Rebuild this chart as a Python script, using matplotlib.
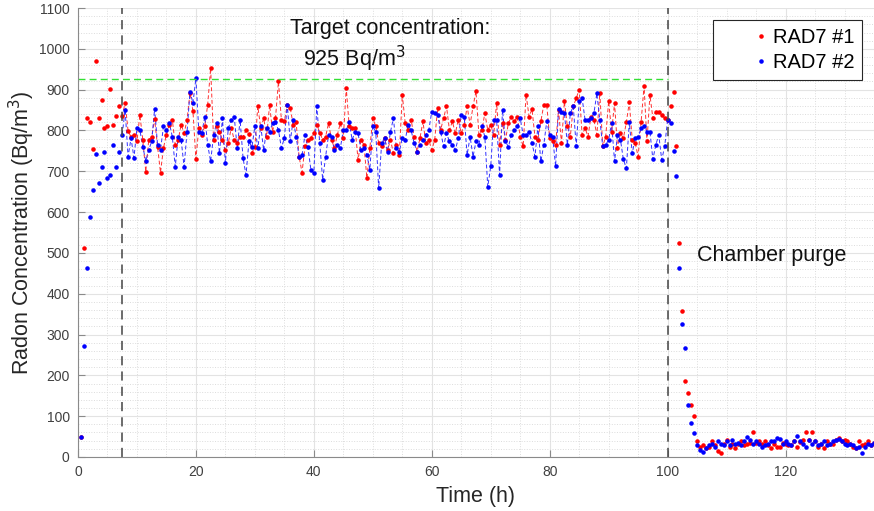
import numpy as np
import matplotlib
matplotlib.use("Agg")
import matplotlib.pyplot as plt
from matplotlib.ticker import MultipleLocator

plt.rcParams['font.family'] = ['Liberation Sans', 'DejaVu Sans']

# readings every 0.5 h, from 0.5 h to 135 h
sample_step_h = 0.5

# RAD7 #1, Bq/m3
rad7_1_fill = [50, 512, 830, 820, 755, 969, 830, 875, 806, 811, 901, 813, 836, 860]
rad7_1_hold = [
    835, 868, 799, 784, 790, 773, 838, 777, 699, 777, 784, 828, 760, 697, 757, 790, 814,
    826, 765, 777, 814, 793, 826, 892, 848, 730, 806, 790, 810, 863, 953, 777, 810,
    797, 777, 752, 770, 806, 777, 769, 785, 785, 800, 791, 746, 759, 859, 806, 830, 785,
    863, 797, 830, 920, 826, 822, 863, 855, 814, 820, 736, 697, 761, 777, 781, 795,
    814, 795, 777, 785, 818, 777, 757, 790, 818, 781, 904, 810, 806, 806, 728, 777, 765,
    683, 757, 830, 810, 769, 761, 781, 752, 777, 744, 765, 740, 888, 818, 801, 826,
    785, 748, 781, 822, 769, 777, 752, 777, 855, 801, 830, 859, 801, 822, 793, 826, 793,
    814, 859, 814, 859, 896, 789, 801, 842, 801, 814, 789, 867, 765, 818, 777, 818,
    834, 822, 834, 785, 761, 888, 834, 852, 785, 777, 822, 863, 863, 781, 773, 765, 850,
    769, 871, 810, 785, 859, 879, 900, 789, 806, 785, 834, 826, 789, 892, 761, 785,
    872, 797, 867, 757, 793, 781, 820, 869, 777, 770, 736, 820, 909, 773, 887, 830, 846,
    846, 838, 830, 826,
]
rad7_1_purge = [
    860, 894, 763, 525, 358, 185, 156, 128, 100,
    38, 25, 29, 21, 25, 38, 30, 15, 9, 33,
    42, 25, 33, 21, 33, 40, 29, 33, 35, 62,
    35, 40, 33, 38, 29, 21, 33, 25, 25, 35,
    33, 29, 29, 38, 25, 36, 42, 60, 42, 62,
    38, 25, 33, 21, 38, 33, 33, 42, 46, 38,
    42, 38, 33, 25, 21, 38, 29, 33, 40, 30,
    35,
]

# RAD7 #2, Bq/m3
rad7_2_fill = [50, 272, 462, 588, 653, 743, 672, 711, 748, 683, 691, 765, 711, 748]
rad7_2_hold = [
    790, 850, 736, 781, 733, 806, 801, 760, 725, 752, 773, 853, 765, 752, 810, 801, 818,
    785, 711, 785, 777, 711, 797, 895, 867, 928, 797, 793, 834, 765, 724, 789, 818,
    744, 830, 720, 806, 826, 834, 757, 826, 732, 691, 773, 759, 810, 757, 811, 751, 806,
    797, 818, 820, 801, 757, 781, 863, 773, 826, 785, 736, 740, 789, 759, 704, 695,
    860, 769, 679, 736, 789, 785, 752, 765, 757, 801, 801, 820, 777, 797, 793, 752, 757,
    740, 704, 810, 797, 658, 769, 781, 748, 797, 830, 757, 748, 781, 777, 814, 800,
    770, 748, 765, 777, 789, 801, 846, 842, 838, 797, 761, 793, 773, 765, 752, 781, 838,
    834, 740, 785, 736, 773, 765, 810, 785, 662, 712, 826, 826, 691, 850, 773, 760,
    789, 801, 810, 830, 789, 789, 797, 769, 736, 810, 724, 765, 822, 789, 785, 712, 852,
    846, 842, 765, 842, 859, 761, 871, 879, 826, 826, 830, 842, 891, 826, 761, 765,
    777, 818, 724, 789, 777, 729, 707, 820, 744, 781, 783, 806, 810, 797, 797, 729, 765,
    789, 728, 761, 826,
]
rad7_2_purge = [
    818, 750, 689, 464, 325, 266, 127, 84, 58,
    30, 17, 13, 21, 29, 33, 25, 38, 33, 29,
    38, 29, 42, 33, 35, 29, 38, 49, 42, 33,
    38, 33, 25, 29, 33, 38, 40, 47, 43, 33,
    38, 33, 29, 38, 52, 38, 33, 25, 42, 31,
    38, 29, 33, 38, 29, 33, 38, 42, 44, 38,
    33, 29, 33, 29, 21, 25, 9, 25, 33, 29,
    35,
]

hold_start_h = 7.5
hold_end_h = 100
target_conc = 925

rad7_1 = np.array(rad7_1_fill + rad7_1_hold + rad7_1_purge, dtype=float)
rad7_2 = np.array(rad7_2_fill + rad7_2_hold + rad7_2_purge, dtype=float)
t1 = sample_step_h * np.arange(1, len(rad7_1) + 1)
t2 = sample_step_h * np.arange(1, len(rad7_2) + 1)
hold1 = (t1 >= hold_start_h) & (t1 <= hold_end_h)
hold2 = (t2 >= hold_start_h) & (t2 <= hold_end_h)

fig = plt.figure(figsize=(8.74, 5.11), dpi=100)
ax = fig.add_axes([0.0892, 0.1057, 0.9108, 0.8786])

# dashed connections during the hold period
ax.plot(t1[hold1], rad7_1[hold1], color='#ff3030', ls=(0, (4, 2.5)), lw=0.7)
ax.plot(t2[hold2], rad7_2[hold2], color='#3030ff', ls=(0, (4, 2.5)), lw=0.7)
ax.plot(t1, rad7_1, '.', color='r', ms=4.5, label='RAD7 #1')
ax.plot(t2, rad7_2, '.', color='b', ms=4.5, label='RAD7 #2')

ax.plot([0, hold_end_h], [target_conc, target_conc], color='#33e033', ls=(0, (5, 3)), lw=1)
for xv in (hold_start_h, hold_end_h):
    ax.axvline(xv, color='#444444', ls=(0, (6, 4)), lw=1.1)

ax.text(35.9, 1051, 'Target concentration:', fontsize=15.5, va='center', color='#111111')
ax.text(38.1, 975, '925 Bq/m$^3$', fontsize=15.5, va='center', color='#111111')
ax.text(105.0, 493, 'Chamber purge', fontsize=15.5, va='center', color='#111111')

ax.set_xlim(0, 135)
ax.set_ylim(0, 1100)
ax.xaxis.set_major_locator(MultipleLocator(20))
ax.xaxis.set_minor_locator(MultipleLocator(5))
ax.yaxis.set_major_locator(MultipleLocator(100))
ax.yaxis.set_minor_locator(MultipleLocator(20))
ax.grid(which='major', color='#e3e3e3', lw=0.8)
ax.grid(which='minor', color='#dcdcdc', ls=':', lw=0.7)
ax.set_axisbelow(True)

for side in ('top', 'right'):
    ax.spines[side].set_visible(False)
for side in ('left', 'bottom'):
    ax.spines[side].set_color('#8a8a8a')
ax.tick_params(which='major', direction='in', length=5, color='#8a8a8a',
               labelsize=10, labelcolor='#404040', pad=6)
ax.tick_params(which='minor', length=0)

ax.set_xlabel('Time (h)', fontsize=15.5, color='#262626', labelpad=5)
ax.set_ylabel('Radon Concentration (Bq/m$^3$)', fontsize=15.5, color='#262626', labelpad=1)

# marker sits far right in its slot, like the original legend
leg = ax.legend(loc='upper right', bbox_to_anchor=(0.985, 0.973), borderaxespad=0,
                fontsize=14.5, fancybox=False, framealpha=1, edgecolor='#262626',
                numpoints=1, handlelength=4.0, handletextpad=-1.45,
                borderpad=0.4, labelspacing=0.3)
leg.get_frame().set_linewidth(0.8)

fig.savefig('out.png', dpi=100)
